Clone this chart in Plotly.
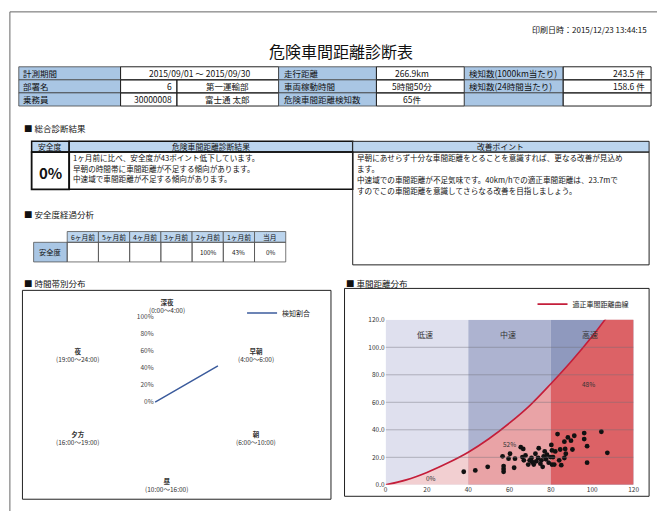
import plotly.graph_objects as go

W, H = 663, 515
FONT = "Noto Sans CJK JP"

# ---------------- data ----------------
print_stamp = "印刷日時：2015/12/23 13:44:15"
doc_title = "危険車間距離診断表"

info_labels_a = ["計測期間", "部署名", "乗務員"]
period_text = "2015/09/01 ～ 2015/09/30"
info_codes = ["6", "30000008"]
info_names = ["第一運輸部", "富士通 太郎"]
info_labels_b = ["走行距離", "車両稼動時間", "危険車間距離検知数"]
info_values_b = ["266.9km", "5時間50分", "65件"]
info_labels_c = ["検知数(1000km当たり)", "検知数(24時間当たり)", ""]
info_values_c = ["243.5 件", "158.6 件", ""]

section_titles = ["総合診断結果", "安全度経過分析", "時間帯別分布", "車間距離分布"]
diag_headers = ["安全度", "危険車間距離診断結果", "改善ポイント"]
safety_now = "0%"
diag_lines = [
    "1ヶ月前に比べ、安全度が43ポイント低下しています。",
    "早朝の時間帯に車間距離が不足する傾向があります。",
    "中速域で車間距離が不足する傾向があります。",
]
improve_lines = [
    "早朝にあせらず十分な車間距離をとることを意識すれば、更なる改善が見込め",
    "ます。",
    "中速域での車間距離が不足気味です。40km/hでの適正車間距離は、23.7mで",
    "すのでこの車間距離を意識してさらなる改善を目指しましょう。",
]

months = ["6ヶ月前", "5ヶ月前", "4ヶ月前", "3ヶ月前", "2ヶ月前", "1ヶ月前", "当月"]
month_row_label = "安全度"
month_safety = ["", "", "", "", "100%", "43%", "0%"]

time_bands = ["深夜", "早朝", "朝", "昼", "夕方", "夜"]
time_ranges = ["(0:00～4:00)", "(4:00～6:00)", "(6:00～10:00)",
               "(10:00～16:00)", "(16:00～19:00)", "(19:00～24:00)"]
time_share = [0, 85, 0, 0, 0, 0]
radial_ticks = [0, 20, 40, 60, 80, 100]
radar_series = "検知割合"

curve_speed = [0, 10, 20, 30, 40, 50, 60, 70, 80, 90, 100, 110, 120]
curve_dist = [0, 3.6, 9.0, 15.8, 23.7, 33.5, 45.0, 58.0, 73.5, 90.0, 108.0, 128.0, 150.0]
curve_name = "適正車間距離曲線"

obs_speed = [37.8, 43.4, 49.4, 57.1, 57.1, 56.6, 59.5, 60.2, 62.2, 62.6,
             65.4, 66.6, 66.2, 66.9, 67.7, 69.0, 69.7, 70.6, 71.7, 72.5,
             72.9, 73.8, 74.1, 74.9, 75.4, 76.0, 76.5, 77.0, 77.6, 78.1,
             78.9, 79.7, 80.2, 80.5, 81.0, 81.6, 82.1, 83.2, 84.0, 84.5,
             85.0, 86.5, 86.5, 86.9, 87.2, 88.2, 89.7, 90.4, 91.3, 96.1,
             96.1, 97.5, 97.5, 104.4, 107.3, 80.5, 57.1, 71.0]
obs_dist = [9.5, 10.5, 13.1, 13.6, 9.5, 20.7, 19.0, 22.6, 12.4, 19.0,
            27.4, 26.1, 20.2, 17.8, 21.4, 14.7, 17.8, 19.5, 14.7, 22.6,
            17.1, 19.5, 26.6, 15.4, 17.8, 13.1, 20.7, 24.3, 18.6, 21.9,
            16.1, 20.2, 29.0, 14.7, 20.2, 14.7, 24.3, 36.9, 17.8, 25.7,
            14.3, 19.5, 31.4, 26.1, 22.6, 34.5, 32.1, 25.7, 35.7, 37.6,
            33.3, 28.1, 16.1, 38.6, 23.3, 25.0, 11.5, 16.5]

band_names = ["低速", "中速", "高速"]
band_edges = [0, 40, 80, 120]
band_share = ["0%", "52%", "48%"]
y_ticks = [0, 20, 40, 60, 80, 100, 120]
x_ticks = [0, 20, 40, 60, 80, 100, 120]

# ---------------- styles / helpers ----------------
BLUE = "#a9c6e4"
HEAD_BLUE = "#bcd5ee"
above_cols = ["#dfe0ee", "#adb3d0", "#8f99be"]
below_cols = ["#f2cfd1", "#e9a3a6", "#dc6266"]

def X(px):
    return px / W

def Y(py):
    return 1 - py / H

shapes = []
annos = []

def rect(x0, y0, x1, y1, fill=None, color="#000", width=1):
    shapes.append(dict(type="rect", xref="paper", yref="paper",
                       x0=X(x0), x1=X(x1), y0=Y(y1), y1=Y(y0),
                       fillcolor=fill if fill else "rgba(0,0,0,0)",
                       line=dict(color=color, width=width), layer="below"))

def line(x0, y0, x1, y1, color="#000", width=1):
    shapes.append(dict(type="line", xref="paper", yref="paper",
                       x0=X(x0), x1=X(x1), y0=Y(y0), y1=Y(y1),
                       line=dict(color=color, width=width)))

def text(x, y, s, size=8.5, xanchor="left", color="#111", bold=False):
    if bold:
        s = "<b>" + s + "</b>"
    annos.append(dict(xref="paper", yref="paper", x=X(x), y=Y(y), text=s,
                      showarrow=False, xanchor=xanchor, yanchor="middle",
                      font=dict(family=FONT, size=size, color=color)))

# page borders
line(8, 6, 663, 6, color="#666", width=1)
line(8, 6, 8, 515, color="#666", width=1)

# header
text(655, 24, print_stamp, size=8, xanchor="right")
text(343, 46, doc_title, size=16, xanchor="center")

# info table
cols = [17, 120, 177, 280, 379, 468, 568, 657]
rows = [62, 75.3, 88.6, 102]
for r in range(3):
    y0, y1 = rows[r], rows[r + 1]
    ym = (y0 + y1) / 2
    rect(cols[0], y0, cols[1], y1, fill=BLUE, color="#444", width=0.8)
    text(cols[0] + 2, ym, info_labels_a[r], size=8.5)
    if r == 0:
        rect(cols[1], y0, cols[3], y1, color="#222", width=1)
        text((cols[1] + cols[3]) / 2, ym, period_text, size=8.5, xanchor="center")
    else:
        rect(cols[1], y0, cols[2], y1, color="#222", width=1)
        rect(cols[2], y0, cols[3], y1, color="#222", width=1)
        text(cols[2] - 3, ym, info_codes[r - 1], size=8.5, xanchor="right")
        text((cols[2] + cols[3]) / 2, ym, info_names[r - 1], size=8.5, xanchor="center")
    rect(cols[3], y0, cols[4], y1, fill=BLUE, color="#444", width=0.8)
    text(cols[3] + 3, ym, info_labels_b[r], size=8.5)
    rect(cols[4], y0, cols[5], y1, color="#222", width=1)
    text((cols[4] + cols[5]) / 2 - 8, ym, info_values_b[r], size=8.5, xanchor="center")
    rect(cols[5], y0, cols[6], y1, fill=BLUE, color="#444", width=0.8)
    text(cols[5] + 3, ym, info_labels_c[r], size=8.5)
    rect(cols[6], y0, cols[7], y1, color="#222", width=1)
    text(cols[7] - 4, ym, info_values_c[r], size=8.5, xanchor="right")

# section headings
sec_pos = [(20, 124), (20, 212), (20, 282), (346, 282)]
for (sx, sy), s in zip(sec_pos, section_titles):
    text(sx, sy, "■ " + s, size=8.5)

# diagnosis boxes
dx = [30, 68, 355, 655]
dy = [138, 149, 187, 264]
rect(dx[0], dy[0], dx[1], dy[1], fill=HEAD_BLUE, color="#111", width=1.5)
rect(dx[1], dy[0], dx[2], dy[1], fill=HEAD_BLUE, color="#111", width=1.5)
rect(dx[2], dy[0], dx[3], dy[1], fill=HEAD_BLUE, color="#222", width=1)
rect(dx[0], dy[1], dx[1], dy[2], color="#111", width=1.8)
rect(dx[1], dy[1], dx[2], dy[2], color="#111", width=1.5)
rect(dx[2], dy[1], dx[3], dy[3], color="#222", width=1)
text((dx[0] + dx[1]) / 2, (dy[0] + dy[1]) / 2, diag_headers[0], size=7.8, xanchor="center")
text((dx[1] + dx[2]) / 2, (dy[0] + dy[1]) / 2, diag_headers[1], size=7.8, xanchor="center")
text((dx[2] + dx[3]) / 2, (dy[0] + dy[1]) / 2, diag_headers[2], size=7.8, xanchor="center")
text((dx[0] + dx[1]) / 2, 170, safety_now, size=15, xanchor="center", bold=True)
for i, s in enumerate(diag_lines):
    text(dx[1] + 2, 155 + 10.5 * i, s, size=7.6)
for i, s in enumerate(improve_lines):
    text(dx[2] + 2, 155 + 11 * i, s, size=7.6)

# safety trend table
lab_x0, mx0, mw = 32, 66, 31.6
my = [230, 241, 261]
rect(lab_x0, my[1], mx0, my[2], fill=BLUE, color="#555", width=0.8)
text((lab_x0 + mx0) / 2, (my[1] + my[2]) / 2, month_row_label, size=7.3, xanchor="center")
for i, m in enumerate(months):
    x0 = mx0 + mw * i
    x1 = x0 + mw
    rect(x0, my[0], x1, my[1], fill=HEAD_BLUE, color="#555", width=0.8)
    rect(x0, my[1], x1, my[2], color="#555", width=0.8)
    text((x0 + x1) / 2, (my[0] + my[1]) / 2, m, size=6.8, xanchor="center")
    text((x0 + x1) / 2, (my[1] + my[2]) / 2, month_safety[i], size=6.3, xanchor="center")

# chart frames
rect(20.7, 290, 333, 503, color="#222", width=1)
rect(346.7, 288, 655, 500, color="#222", width=1)

fig = go.Figure()

# ---------------- radar (time band) ----------------
cx, cy, rad = 155, 404, 87
fig.add_trace(go.Scatterpolar(
    r=time_share + time_share[:1], theta=time_bands + time_bands[:1],
    mode="lines", line=dict(color="#3b5b9c", width=1.5),
    name=radar_series, legend="legend"))
label_pos = [(166.7, 306), (256.7, 356), (256.7, 441), (166.7, 488), (76.7, 441), (76.7, 356)]
for (lx, ly), nm, tr in zip(label_pos, time_bands, time_ranges):
    text(lx, ly, "<b>" + nm + "</b><br>" + tr, size=6.5, xanchor="center", color="#333")

# ---------------- scatter (distance) ----------------
px0, px1, py0, py1 = 388.3, 639.3, 320, 488.3
for i in range(3):
    shapes.append(dict(type="rect", xref="x", yref="y",
                       x0=band_edges[i], x1=band_edges[i + 1], y0=0, y1=120,
                       fillcolor=above_cols[i], line=dict(width=0), layer="below"))
for i in range(3):
    lo, hi = band_edges[i], band_edges[i + 1]
    xs = [s for s in curve_speed if lo <= s <= hi]
    ys = [d for s, d in zip(curve_speed, curve_dist) if lo <= s <= hi]
    fig.add_trace(go.Scatter(x=[lo] + xs + [hi], y=[0] + ys + [0], mode="lines",
                             fill="toself", fillcolor=below_cols[i],
                             line=dict(width=0), showlegend=False, hoverinfo="skip",
                             xaxis="x", yaxis="y"))
for t in y_ticks[1:-1]:
    shapes.append(dict(type="line", xref="x", yref="y", x0=0, x1=120, y0=t, y1=t,
                       line=dict(color="rgba(110,110,120,0.55)", width=0.8), layer="above"))
fig.add_trace(go.Scatter(x=curve_speed, y=curve_dist, mode="lines",
                         line=dict(color="#c41e3a", width=1.6, shape="spline"),
                         name=curve_name, legend="legend2", xaxis="x", yaxis="y"))
fig.add_trace(go.Scatter(x=obs_speed, y=obs_dist, mode="markers",
                         marker=dict(color="#111", size=4.8), showlegend=False,
                         xaxis="x", yaxis="y"))
for i in range(3):
    annos.append(dict(xref="x", yref="y", x=(band_edges[i] + band_edges[i + 1]) / 2 - 1,
                      y=109, text=band_names[i], showarrow=False,
                      font=dict(family=FONT, size=8, color="#333")))
share_pos = [(22, 5), (60, 30), (98, 73)]
for (sx, sy), s in zip(share_pos, band_share):
    annos.append(dict(xref="x", yref="y", x=sx, y=sy, text=s, showarrow=False,
                      font=dict(family=FONT, size=6.5, color="#333")))

fig.update_layout(
    width=W, height=H, margin=dict(l=0, r=0, t=0, b=0),
    paper_bgcolor="white", plot_bgcolor="rgba(0,0,0,0)",
    font=dict(family=FONT, size=8, color="#222"),
    shapes=shapes, annotations=annos,
    polar=dict(
        domain=dict(x=[X(cx - rad), X(cx + rad)], y=[Y(cy + rad), Y(cy - rad)]),
        bgcolor="rgba(0,0,0,0)",
        radialaxis=dict(range=[0, 100], tickvals=radial_ticks,
                        ticktext=[f"{v}%" for v in radial_ticks],
                        angle=90, tickangle=90, side="counterclockwise", showgrid=False,
                        showline=False, ticks="", tickfont=dict(size=6.5, color="#444")),
        angularaxis=dict(rotation=90, direction="clockwise", showticklabels=False,
                         showgrid=False, showline=False, ticks="")),
    xaxis=dict(domain=[X(px0), X(px1)], range=[0, 120], tickvals=x_ticks,
               showgrid=False, zeroline=False, showline=False, ticks="",
               tickfont=dict(size=6.5, color="#333"), anchor="y"),
    yaxis=dict(domain=[Y(py1), Y(py0)], range=[0, 120], tickvals=y_ticks,
               tickformat=".1f", showgrid=False, zeroline=False, showline=False,
               ticks="", tickfont=dict(size=6.5, color="#333"), anchor="x"),
    legend=dict(x=X(243), y=Y(313), xanchor="left", yanchor="middle",
                bgcolor="rgba(0,0,0,0)", font=dict(size=7, family=FONT), itemwidth=30),
    legend2=dict(x=X(537), y=Y(304), xanchor="left", yanchor="middle",
                 bgcolor="rgba(0,0,0,0)", font=dict(size=7, family=FONT), itemwidth=30),
    showlegend=True,
)

fig.write_html("out.html", config={"displayModeBar": False},
               post_script="document.body.style.margin='0';document.body.style.overflow='hidden';")
